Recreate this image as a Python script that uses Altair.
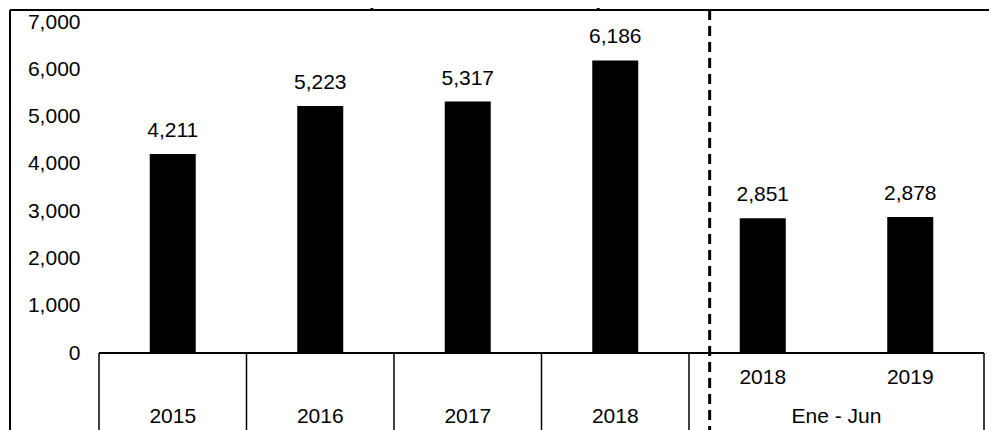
import altair as alt
import pandas as pd

# ---- data ----
categories = ["2015", "2016", "2017", "2018", "2018 Ene-Jun", "2019 Ene-Jun"]
values = [4211, 5223, 5317, 6186, 2851, 2878]
value_labels = ["4,211", "5,223", "5,317", "6,186", "2,851", "2,878"]
sub_labels = ["", "", "", "", "2018", "2019"]
main_labels = ["2015", "2016", "2017", "2018"]
period_label = "Ene - Jun"
y_ticks = [0, 1000, 2000, 3000, 4000, 5000, 6000, 7000]
title_text = "(En miles de toneladas)"

# ---- layout ----
W, H = 885, 331
FONT = "Liberation Sans"
FS = 21
BOTTOM = H + 77
LEFT_FRAME = -89
TOP_FRAME = -12

df = pd.DataFrame({"cat": categories, "value": values,
                   "label": value_labels, "sub": sub_labels})
xs = alt.Scale(domain=categories, paddingInner=0, paddingOuter=0)
ys = alt.Scale(domain=[0, 7000], nice=False)


def xenc(bp=None):
    kw = dict(scale=xs, sort=categories, title=None, axis=None)
    if bp is not None:
        kw["bandPosition"] = bp
    return alt.X("cat:N", **kw)


y_enc = alt.Y("value:Q", scale=ys,
              axis=alt.Axis(values=y_ticks, format=",d", title=None, domain=False,
                            ticks=False, tickSize=0, grid=False, labelPadding=19,
                            labelFontSize=FS, labelFont=FONT, labelColor="black"))

bars = alt.Chart(df).mark_bar(size=46, color="black").encode(
    x=xenc(), y=y_enc)

baseline = alt.Chart(pd.DataFrame({"v": [0]})).mark_rule(
    color="black", strokeWidth=2).encode(
    y=alt.Y("v:Q", scale=ys), x=alt.value(0), x2=alt.value(W))

vlabels = alt.Chart(df).mark_text(baseline="middle", dy=-23, fontSize=FS,
                                  font=FONT, color="black").encode(
    x=xenc(), y=alt.Y("value:Q", scale=ys), text="label:N")

sub_df = df[df["sub"] != ""]
sublabels = alt.Chart(sub_df).mark_text(baseline="middle", fontSize=FS,
                                        font=FONT, color="black").encode(
    x=xenc(), y=alt.value(356), text="sub:N")

main_df = pd.DataFrame({"cat": categories[:4], "txt": main_labels})
mainlabels = alt.Chart(main_df).mark_text(baseline="middle", fontSize=FS,
                                          font=FONT, color="black").encode(
    x=xenc(), y=alt.value(395), text="txt:N")

period_df = pd.DataFrame({"cat": [categories[5]], "txt": [period_label]})
periodlabel = alt.Chart(period_df).mark_text(baseline="middle", fontSize=FS,
                                             font=FONT, color="black").encode(
    x=xenc(bp=0), y=alt.value(395), text="txt:N")

left_edges = alt.Chart(pd.DataFrame({"cat": categories[:5]})).mark_rule(
    color="black", strokeWidth=1.5).encode(
    x=xenc(bp=0), y=alt.value(H), y2=alt.value(BOTTOM))

right_edge = alt.Chart(pd.DataFrame({"cat": categories[5:]})).mark_rule(
    color="black", strokeWidth=1.5).encode(
    x=xenc(bp=1), y=alt.value(H), y2=alt.value(BOTTOM))

dashed = alt.Chart(pd.DataFrame({"cat": [categories[4]]})).mark_rule(
    color="black", strokeWidth=3, strokeDash=[10, 6]).encode(
    x=xenc(bp=0.14), y=alt.value(TOP_FRAME), y2=alt.value(BOTTOM))

one = pd.DataFrame({"a": [0]})
frame_left = alt.Chart(one).mark_rule(color="black", strokeWidth=2).encode(
    x=alt.value(LEFT_FRAME), y=alt.value(TOP_FRAME), y2=alt.value(BOTTOM))
frame_top = alt.Chart(one).mark_rule(color="black", strokeWidth=2).encode(
    x=alt.value(LEFT_FRAME), x2=alt.value(W + 5), y=alt.value(TOP_FRAME))

title = alt.Chart(one).mark_text(text=title_text, fontWeight="bold",
                                 baseline="alphabetic", fontSize=FS, font=FONT,
                                 color="black").encode(
    x=alt.value(386), y=alt.value(-15))

chart = alt.layer(
    bars, baseline, vlabels, sublabels, mainlabels, periodlabel,
    left_edges, right_edge, dashed, frame_left, frame_top, title
).properties(
    width=W, height=H,
    autosize=alt.AutoSizeParams(type="none"),
    padding={"left": 91, "top": 14, "right": 5, "bottom": 77},
).configure(background="white", view=alt.ViewConfig(strokeWidth=0))

chart.save("out.html", embed_options={"renderer": "svg", "actions": False})
